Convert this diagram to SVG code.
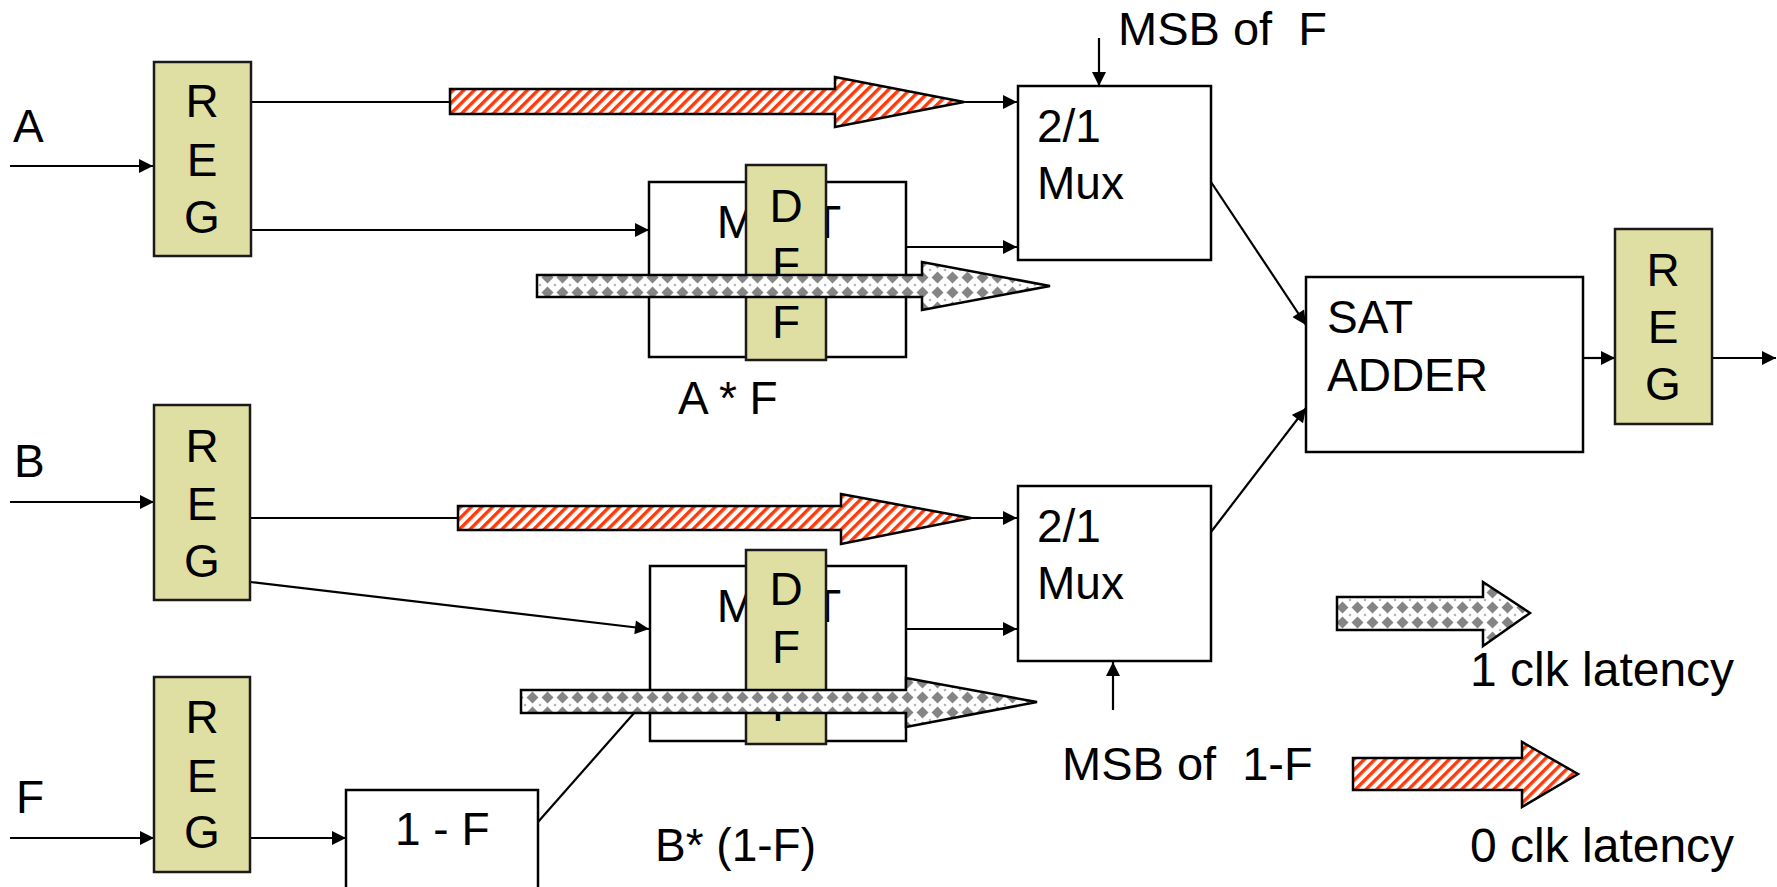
<svg xmlns="http://www.w3.org/2000/svg" width="1777" height="887" viewBox="0 0 1777 887">
<style>
text{font-family:"Liberation Sans",Arial,sans-serif;font-size:46px;fill:#000;white-space:pre}
.m{text-anchor:middle}
.big{font-size:48px}
.msb{font-size:47px}
.box{fill:#fff;stroke:#000;stroke-width:2.5}
.reg{fill:#DFDFA3;stroke:#1a1a1a;stroke-width:2.5}
.ln{fill:none;stroke:#000;stroke-width:2.2;marker-end:url(#ah)}
.red{fill:url(#stripes);stroke:#000;stroke-width:2.5}
.gray{fill:url(#diam);stroke:#000;stroke-width:2.5}
</style>
<defs>
<marker id="ah" viewBox="0 0 10 10" refX="10" refY="5" markerWidth="15" markerHeight="14" markerUnits="userSpaceOnUse" orient="auto">
<path d="M0,0 L10,5 L0,10 z" fill="#000"/>
</marker>
<pattern id="stripes" width="7.5" height="7.5" patternUnits="userSpaceOnUse" patternTransform="rotate(45)">
<rect width="7.5" height="7.5" fill="#fff"/>
<rect width="3.4" height="7.5" fill="#FF3A0A"/>
</pattern>
<pattern id="diam" width="15" height="15" patternUnits="userSpaceOnUse">
<rect width="15" height="15" fill="#fff"/>
<polygon points="7.5,1.5 13.5,7.5 7.5,13.5 1.5,7.5" fill="#858585"/>
<polygon points="0,-1.5 1.5,0 0,1.5 -1.5,0" fill="#aaa"/>
<polygon points="15,-1.5 16.5,0 15,1.5 13.5,0" fill="#aaa"/>
<polygon points="0,13.5 1.5,15 0,16.5 -1.5,15" fill="#aaa"/>
<polygon points="15,13.5 16.5,15 15,16.5 13.5,15" fill="#aaa"/>
</pattern>
</defs>

<rect width="1777" height="887" fill="#fff"/>

<g id="labels-inputs">
<text x="13" y="142">A</text>
<text x="14" y="477">B</text>
<text x="16" y="813">F</text>
</g>

<g id="connectors">
<line class="ln" x1="10" y1="166" x2="153" y2="166"/>
<line class="ln" x1="10" y1="502" x2="154" y2="502"/>
<line class="ln" x1="10" y1="838" x2="154" y2="838"/>
<line class="ln" x1="251" y1="102" x2="1017" y2="102"/>
<line class="ln" x1="251" y1="230" x2="649" y2="230"/>
<line class="ln" x1="906" y1="247" x2="1017" y2="247"/>
<line class="ln" x1="250" y1="518" x2="1017" y2="518"/>
<line class="ln" x1="250" y1="582" x2="649" y2="629"/>
<line class="ln" x1="250" y1="838" x2="346" y2="838"/>
<line class="ln" x1="538" y1="822" x2="650" y2="695"/>
<line class="ln" x1="906" y1="629" x2="1017" y2="629"/>
<line class="ln" x1="1099" y1="38" x2="1099" y2="86"/>
<line class="ln" x1="1113" y1="710" x2="1113" y2="662"/>
<line class="ln" x1="1211" y1="182" x2="1306" y2="325"/>
<line class="ln" x1="1211" y1="532" x2="1306" y2="408"/>
<line class="ln" x1="1583" y1="358" x2="1615" y2="358"/>
<line class="ln" x1="1712" y1="358" x2="1776" y2="358"/>
</g>

<g id="regA">
<rect class="reg" x="154" y="62" width="97" height="194"/>
<text class="m" x="202" y="117">R</text>
<text class="m" x="202" y="176">E</text>
<text class="m" x="202" y="233">G</text>
</g>
<g id="regB">
<rect class="reg" x="154" y="405" width="96" height="195"/>
<text class="m" x="202" y="462">R</text>
<text class="m" x="202" y="520">E</text>
<text class="m" x="202" y="577">G</text>
</g>
<g id="regF">
<rect class="reg" x="154" y="677" width="96" height="195"/>
<text class="m" x="202" y="733">R</text>
<text class="m" x="202" y="792">E</text>
<text class="m" x="202" y="848">G</text>
</g>

<g id="oneminusF">
<rect class="box" x="346" y="790" width="192" height="110"/>
<text x="395" y="845">1 - F</text>
</g>

<g id="mult1">
<rect class="box" x="649" y="182" width="257" height="175"/>
<text class="m" x="779" y="238" style="font-size:47px">MULT</text>
</g>
<g id="dff1">
<rect class="reg" x="746" y="165" width="80" height="195"/>
<text class="m" x="786" y="222">D</text>
<text class="m" x="786" y="280">F</text>
<text class="m" x="786" y="338">F</text>
</g>
<g id="mult2">
<rect class="box" x="650" y="566" width="256" height="175"/>
<text class="m" x="779" y="622" style="font-size:47px">MULT</text>
</g>
<g id="dff2">
<rect class="reg" x="746" y="550" width="80" height="194"/>
<text class="m" x="786" y="605">D</text>
<text class="m" x="786" y="663">F</text>
<text class="m" x="786" y="721">F</text>
</g>

<g id="lat-red1"><polygon class="red" points="450,89 835,89 835,77 964,102 835,127 835,114 450,114"/></g>
<g id="lat-red2"><polygon class="red" points="458,506 841,506 841,494 971,518 841,544 841,530 458,530"/></g>
<g id="lat-gray1"><polygon class="gray" points="537,275 922,275 922,262 1050,286 922,310 922,297 537,297"/></g>
<g id="lat-gray2"><polygon class="gray" points="521,690 906,690 906,678 1037,702 906,727 906,713 521,713"/></g>

<g id="labels-mult">
<text x="678" y="414">A * F</text>
<text x="655" y="861">B* (1-F)</text>
</g>

<g id="mux1">
<rect class="box" x="1018" y="86" width="193" height="174"/>
<text x="1037" y="142">2/1</text>
<text x="1037" y="199">Mux</text>
</g>
<g id="mux2">
<rect class="box" x="1018" y="486" width="193" height="175"/>
<text x="1037" y="542">2/1</text>
<text x="1037" y="599">Mux</text>
</g>
<g id="msb-labels">
<text class="msb" x="1118" y="45">MSB of  F</text>
<text class="msb" x="1062" y="780">MSB of  1-F</text>
</g>

<g id="satadder">
<rect class="box" x="1306" y="277" width="277" height="175"/>
<text x="1327" y="333">SAT</text>
<text x="1327" y="391">ADDER</text>
</g>
<g id="regOut">
<rect class="reg" x="1615" y="229" width="97" height="195"/>
<text class="m" x="1663" y="286">R</text>
<text class="m" x="1663" y="343">E</text>
<text class="m" x="1663" y="400">G</text>
</g>

<g id="legend">
<polygon class="gray" points="1337,597 1483,597 1483,582 1530,613 1483,646 1483,630 1337,630"/>
<text class="big" x="1470" y="686">1 clk latency</text>
<polygon class="red" points="1353,758 1522,758 1522,742 1578,774 1522,807 1522,790 1353,790"/>
<text class="big" x="1470" y="862">0 clk latency</text>
</g>
</svg>
